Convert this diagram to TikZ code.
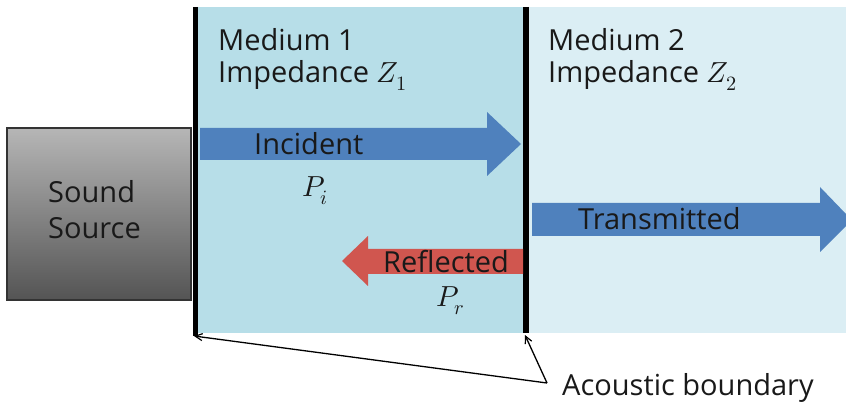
\documentclass[tikz,border=0pt]{standalone}
\usepackage{fontspec}
\usepackage{unicode-math}
\setmainfont{Open Sans}
\setmathfont{Latin Modern Math}
\usetikzlibrary{arrows.meta}
\definecolor{medone}{HTML}{B7DEE8}
\definecolor{medtwo}{HTML}{DBEEF4}
\definecolor{arrblue}{HTML}{4F81BD}
\definecolor{arrred}{HTML}{D0564F}
\definecolor{srctop}{RGB}{182,182,182}
\definecolor{srcbot}{RGB}{84,84,84}
\tikzset{
  lbl/.style={anchor=base west, inner sep=0pt, font=\fontsize{29}{32}\selectfont, text=black!90},
  boundary/.style={line width=5.5pt, black},
  pointer/.style={line width=1.3pt, -{Straight Barb[length=7pt,width=7pt,line width=1.2pt]}},
}
\begin{document}
\begin{tikzpicture}[x=1pt,y=-1pt]
\useasboundingbox (0,0) rectangle (846,403);
% media
\fill[medone] (195,7) rectangle (526,333);
\fill[medtwo] (526,7) rectangle (846,333);
% sound source
\shade[top color=srctop, bottom color=srcbot] (7,128) rectangle (191,300);
\draw[line width=1.5pt, black!80] (7,128) rectangle (191,300);
\node[lbl] (snd) at (48,203) {Sound};
\node[lbl] (src) at (48,239) {Source};
% boundaries
\draw[boundary] (195.5,7) -- (195.5,336);
\draw[boundary] (526,7) -- (526,333);
\coordinate (lb) at (194,336);
\coordinate (rb) at (525,335);
% labels
\node[lbl] (m1) at (218,51) {Medium 1};
\node[lbl] (z1) at (218,83) {Impedance $Z_1$};
\node[lbl] (m2) at (548,51) {Medium 2};
\node[lbl] (z2) at (548,83) {Impedance $Z_2$};
% incident
\fill[arrblue] (200,128) -- (487,128) -- (487,112) -- (521,144) -- (487,176) -- (487,160) -- (200,160) -- cycle;
\node[lbl] (inc) at (254,155) {Incident};
\node[lbl] (pi) at (302,197) {$P_i$};
% reflected
\fill[arrred] (523,249) -- (368,249) -- (368,236) -- (342,261) -- (368,286) -- (368,274) -- (523,274) -- cycle;
\node[lbl] (ref) at (383,273) {Reflected};
\node[lbl] (pr) at (436,307) {$P_r$};
% transmitted
\fill[arrblue] (532,203) -- (820,203) -- (820,187) -- (846,214) -- (846,226) -- (820,252) -- (820,236) -- (532,236) -- cycle;
\node[lbl] (tr) at (578,230) {Transmitted};
% acoustic boundary
\node[lbl] (ab) at (562,395) {Acoustic boundary};
\coordinate (m) at (547,383);
\draw[pointer] (m) -- (lb);
\draw[pointer] (m) -- (rb);
\end{tikzpicture}
\end{document}
